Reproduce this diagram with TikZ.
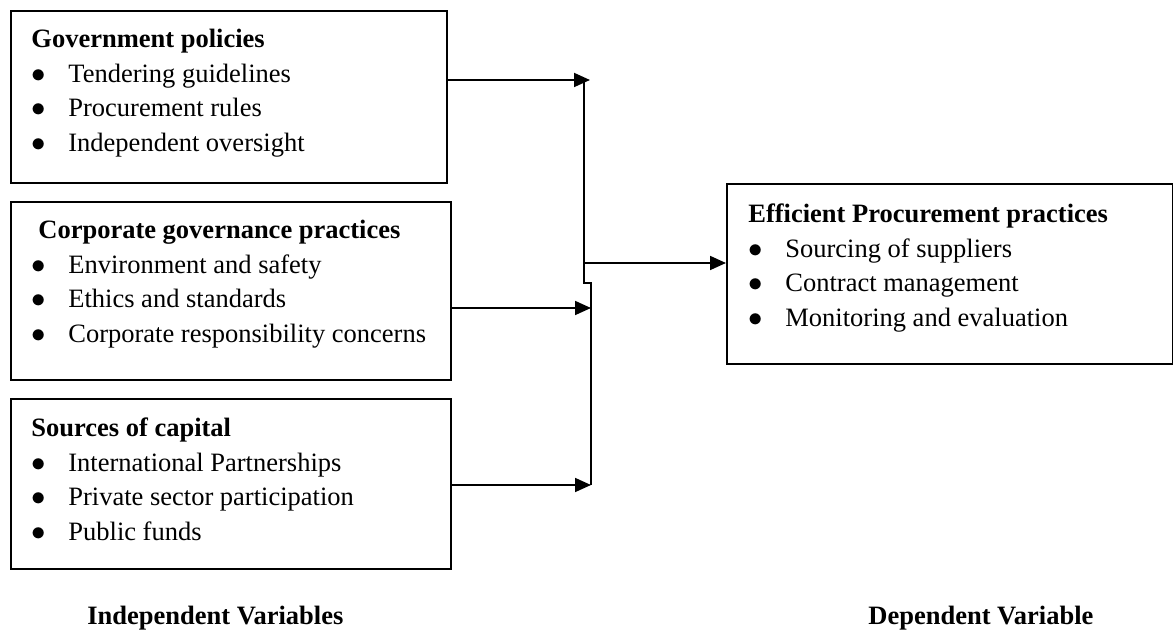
\documentclass[tikz,border=0pt]{standalone}
\usepackage{fontspec}
\setmainfont{Liberation Serif}
\usetikzlibrary{arrows.meta}

\tikzset{
  box/.style={draw, line width=0.9pt, inner sep=0pt, anchor=north west},
  txt/.style={inner sep=0pt, anchor=base west, font=\fontsize{13.25}{17.25}\selectfont},
  ln/.style={line width=0.9pt},
  arr/.style={line width=0.9pt, -{Triangle[length=8pt,width=7pt]}},
  lbl/.style={inner sep=0pt, anchor=base west, font=\fontsize{13.25}{16}\selectfont\bfseries}
}
\newcommand{\itm}[1]{$\bullet$ & #1\\}
\newcommand{\hd}[1]{\multicolumn{2}{@{}l@{}}{\textbf{#1}}\\}

\begin{document}
\begin{tikzpicture}[x=0.5pt,y=0.5pt,yscale=-1,xscale=1]
\useasboundingbox (0,0) rectangle (1173,630); %picture is 1173 wide and 630 high


%Government policies
\node[box, minimum width=218pt, minimum height=86pt] (gov) at (10,10) {};
\node[txt] (govtxt) at (31,48) {\begin{tabular}[t]{@{}p{18.5pt}@{}l@{}}
\hd{Government policies}
\itm{Tendering guidelines}
\itm{Procurement rules}
\itm{Independent oversight}
\end{tabular}};

%Corporate governance
\node[box, minimum width=220pt, minimum height=89pt] (corp) at (10,201) {};
\node[txt] (corptxt) at (31,239) {\begin{tabular}[t]{@{}p{18.5pt}@{}l@{}}
\hd{\hspace{3.5pt}Corporate governance practices}
\itm{Environment and safety}
\itm{Ethics and standards}
\itm{Corporate responsibility concerns}
\end{tabular}};

%Sources of capital
\node[box, minimum width=220pt, minimum height=85pt] (cap) at (10,398) {};
\node[txt] (captxt) at (31,437) {\begin{tabular}[t]{@{}p{18.5pt}@{}l@{}}
\hd{Sources of capital}
\itm{International Partnerships}
\itm{Private sector participation}
\itm{Public funds}
\end{tabular}};

%Efficient procurement (dependent)
\node[box, minimum width=223pt, minimum height=90pt] (eff) at (726,183) {};
\node[txt] (efftxt) at (748,223) {\begin{tabular}[t]{@{}p{18.5pt}@{}l@{}}
\hd{Efficient Procurement practices}
\itm{Sourcing of suppliers}
\itm{Contract management}
\itm{Monitoring and evaluation}
\end{tabular}};


%Junction points
\coordinate (j1) at (590,80);
\coordinate (j2) at (591,308);
\coordinate (j3) at (591,485);
\coordinate (b1) at (584,80);
\coordinate (b2) at (584,283);
\coordinate (b3) at (591,283);
\coordinate (m) at (584,263);

%Arrows into the bar
\draw[arr] (gov.east |- j1) -- (j1);
\draw[arr] (corp.east |- j2) -- (j2);
\draw[arr] (cap.east |- j3) -- (j3);

%Bar
\draw[ln] (b1) -- (b2) -- (b3) -- (j3);

%Arrow to dependent variable
\draw[arr] (m) -- (m -| eff.west);


\node[lbl] (indep) at (87,624) {Independent Variables};
\node[lbl] (dep) at (868,624) {Dependent Variable};

\end{tikzpicture}
\end{document}
